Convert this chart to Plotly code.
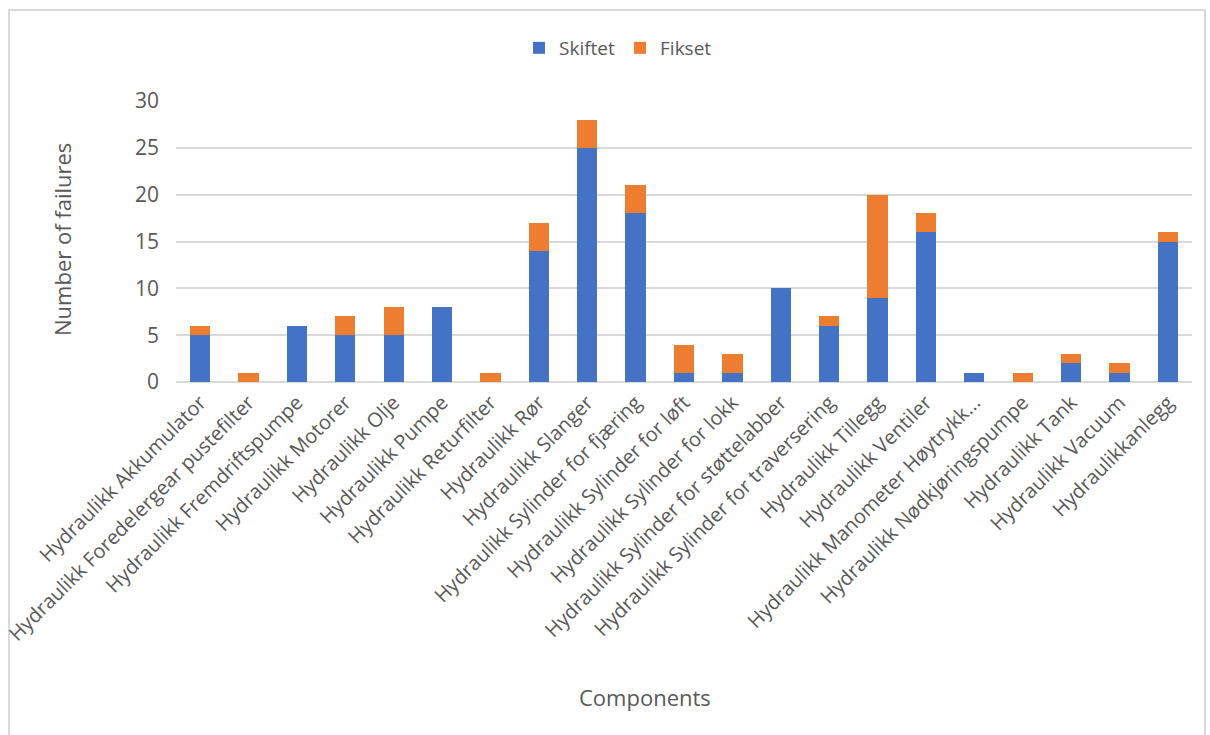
import plotly.graph_objects as go

categories = [
    "Hydraulikk Akkumulator",
    "Hydraulikk Foredelergear pustefilter",
    "Hydraulikk Fremdriftspumpe",
    "Hydraulikk Motorer",
    "Hydraulikk Olje",
    "Hydraulikk Pumpe",
    "Hydraulikk Returfilter",
    "Hydraulikk Rør",
    "Hydraulikk Slanger",
    "Hydraulikk Sylinder for fjæring",
    "Hydraulikk Sylinder for løft",
    "Hydraulikk Sylinder for lokk",
    "Hydraulikk Sylinder for støttelabber",
    "Hydraulikk Sylinder for traversering",
    "Hydraulikk Tillegg",
    "Hydraulikk Ventiler",
    "Hydraulikk Manometer Høytrykk...",
    "Hydraulikk Nødkjøringspumpe",
    "Hydraulikk Tank",
    "Hydraulikk Vacuum",
    "Hydraulikkanlegg",
]
skiftet = [5, 0, 6, 5, 5, 8, 0, 14, 25, 18, 1, 1, 10, 6, 9, 16, 1, 0, 2, 1, 15]
fikset = [1, 1, 0, 2, 3, 0, 1, 3, 3, 3, 3, 2, 0, 1, 11, 2, 0, 1, 1, 1, 1]
y_ticks = [0, 5, 10, 15, 20, 25, 30]

FONT = "Open Sans"
GRAY = "#595959"

# plot area in pixels
L, R, T, B = 176, 1192, 101, 382
W, H = 1210, 735


def px(x):
    return (x - L) / (R - L)


def py(y):
    return (B - y) / (B - T)


fig = go.Figure()
fig.add_trace(go.Bar(x=categories, y=skiftet, name="Skiftet",
                     marker=dict(color="#4472C4", line=dict(width=0))))
fig.add_trace(go.Bar(x=categories, y=fikset, name="Fikset",
                     marker=dict(color="#ED7D31", line=dict(width=0))))

fig.update_layout(
    barmode="stack",
    bargap=0.58,
    width=W, height=H,
    margin=dict(l=L, r=W - R, t=T, b=H - B, autoexpand=False),
    paper_bgcolor="white",
    plot_bgcolor="white",
    font=dict(family=FONT, color=GRAY, size=15),
    legend=dict(orientation="h", x=px(618), xanchor="center", y=py(48), yanchor="middle",
                font=dict(size=19, color=GRAY), traceorder="normal",
                itemwidth=30),
    xaxis=dict(tickangle=-45, tickfont=dict(size=20, color=GRAY), showgrid=False,
               showline=False, ticks="", ticklabelstandoff=4),
    yaxis=dict(range=[0, 30], tickvals=y_ticks, tickfont=dict(size=21, color=GRAY),
               gridcolor="#D9D9D9", gridwidth=2, zeroline=True, zerolinecolor="#D9D9D9",
               zerolinewidth=2, ticks="", ticklabelstandoff=16),
    showlegend=True,
)

fig.add_annotation(text="Number of failures", x=px(62), y=py(240), xref="paper", yref="paper",
                   showarrow=False, textangle=-90, font=dict(size=22, color=GRAY),
                   xanchor="center", yanchor="middle")
fig.add_annotation(text="Components", x=px(645), y=py(697), xref="paper", yref="paper",
                   showarrow=False, font=dict(size=22, color=GRAY), xanchor="center",
                   yanchor="middle")

fig.add_shape(type="rect", xref="paper", yref="paper",
              x0=px(9), x1=px(1205), y0=py(740), y1=py(10),
              line=dict(color="#D9D9D9", width=2), fillcolor="rgba(0,0,0,0)", layer="below")

fig.write_html("out.html")
